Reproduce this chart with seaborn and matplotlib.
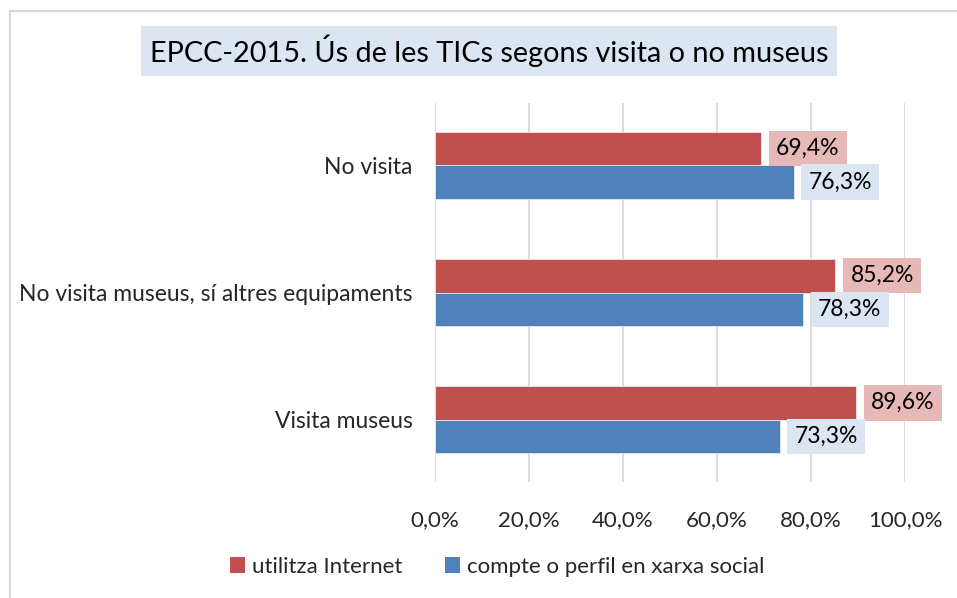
import matplotlib
matplotlib.use("Agg")
import matplotlib.pyplot as plt
import seaborn as sns
import pandas as pd
from matplotlib.lines import Line2D
from matplotlib.patches import Patch

categories = ["No visita", "No visita museus, sí altres equipaments", "Visita museus"]
series_names = ["utilitza Internet", "compte o perfil en xarxa social"]
internet = [69.4, 85.2, 89.6]
social = [76.3, 78.3, 73.3]
xticks = [0, 20, 40, 60, 80, 100]
title = "EPCC-2015. Ús de les TICs segons visita o no museus"

colors = ["#C0504D", "#4F81BD"]
label_bg = ["#E6B9B8", "#DCE6F2"]

df = pd.DataFrame({
    "cat": categories * 2,
    "serie": [series_names[0]] * 3 + [series_names[1]] * 3,
    "val": internet + social,
})

sns.set_theme(style="white")
plt.rcParams["font.family"] = ["Lato", "DejaVu Sans"]

fig = plt.figure(figsize=(9.57, 5.98), dpi=100)
ax = fig.add_axes([435 / 957, 1 - 482 / 598, (905 - 435) / 957, (482 - 103) / 598])

sns.barplot(data=df, y="cat", x="val", hue="serie", order=categories,
            hue_order=series_names, palette=colors, orient="h", width=0.53,
            ax=ax, legend=False, saturation=1, edgecolor="#e8e8e8", linewidth=0.6)

ax.set_xlim(0, 100)
ax.set_ylim(2.49, -0.49)
ax.set_xticks(xticks)
ax.set_xticklabels([f"{t:.1f}".replace(".", ",") + "%" for t in xticks], fontsize=16)
ax.tick_params(axis="y", labelsize=16.5, length=0, pad=16)
ax.tick_params(axis="x", length=0, pad=20)
ax.set_xlabel("")
ax.set_ylabel("")
for s in ax.spines.values():
    s.set_visible(False)
ax.grid(axis="x", color="#d9d9d9", linewidth=1.3)
ax.set_axisbelow(True)

# data labels
for ci, cont in enumerate(ax.containers):
    for bar in cont:
        w = bar.get_width()
        yc = bar.get_y() + bar.get_height() / 2
        ax.text(w + 3.2, yc, f"{w:.1f}".replace(".", ",") + "%", ha="left", va="center",
                fontsize=16.5, color="#000000",
                bbox=dict(boxstyle="square,pad=0.32", facecolor=label_bg[ci], edgecolor="none"))

# title
fig.text(489 / 957, 1 - 51 / 598, title, ha="center", va="center", fontsize=20.8,
         color="#000000",
         bbox=dict(boxstyle="square,pad=0.3", facecolor="#DCE6F2", edgecolor="none"))

# legend
handles = [Patch(facecolor=c, edgecolor="none") for c in colors]
fig.legend(handles, series_names, loc="center", bbox_to_anchor=(497 / 957, 1 - 567 / 598),
           ncol=2, frameon=False, fontsize=16, handlelength=0.7, handleheight=0.7,
           handletextpad=0.3, columnspacing=1.9)

# figure border
fig.add_artist(Line2D([10 / 957, 10 / 957], [0, 1 - 11 / 598], transform=fig.transFigure,
                      color="#d9d9d9", linewidth=1.5))
fig.add_artist(Line2D([10 / 957, 1], [1 - 11 / 598, 1 - 11 / 598], transform=fig.transFigure,
                      color="#d9d9d9", linewidth=1.5))

fig.savefig("out.png", dpi=100)
